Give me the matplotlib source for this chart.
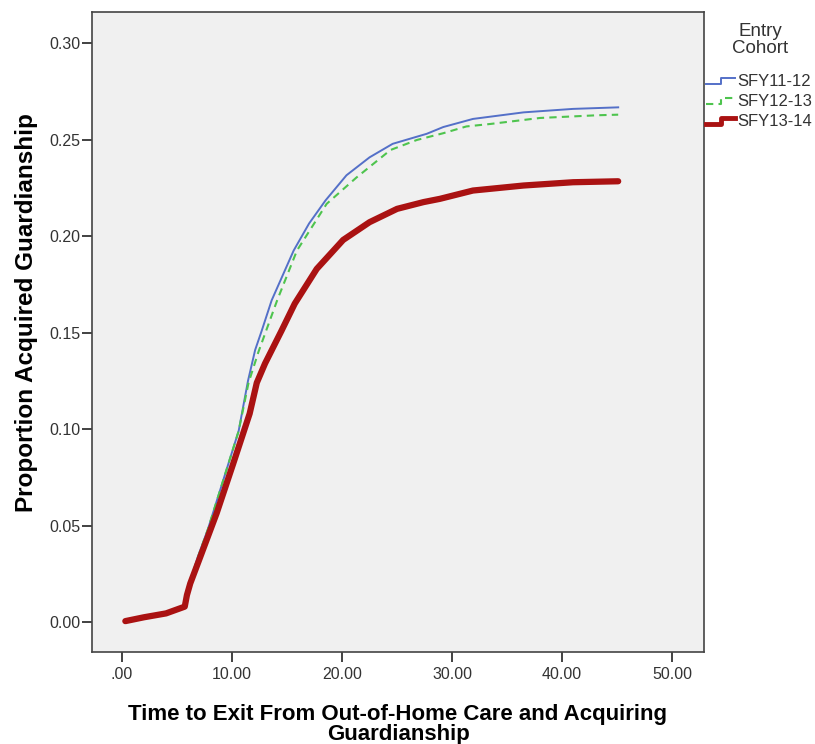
import matplotlib.pyplot as plt
from matplotlib.ticker import FuncFormatter
from matplotlib.lines import Line2D
from matplotlib.legend_handler import HandlerLine2D

plt.rcParams['font.family'] = ['Liberation Sans', 'DejaVu Sans']

# cumulative proportion acquiring guardianship
t11 = [0.3, 2, 4, 5.7, 5.9, 6.2, 6.9, 7.8, 9.2, 10.6, 11.45, 12.1, 12.7, 13.6, 15.6, 17.0, 18.5, 20.4,
       22.5, 24.6, 27.7, 29.2, 31.9, 36.5, 41, 45.1]
p11 = [0.000, 0.002, 0.004, 0.008, 0.014, 0.021, 0.034, 0.048, 0.0735, 0.099, 0.125, 0.141, 0.151, 0.1667,
       0.1925, 0.2065, 0.2185, 0.2315, 0.2408, 0.2478, 0.253, 0.2565, 0.2607, 0.2641, 0.2659, 0.2667]

t12 = [0.3, 2, 4, 5.7, 5.9, 6.2, 6.9, 7.8, 9.2, 10.6, 11.5, 12.4, 14.1, 15.9, 18.6, 21.3, 24.4, 26.8,
       29.2, 31.3, 33.5, 38, 43.2, 45.1]
p12 = [0.000, 0.002, 0.004, 0.008, 0.014, 0.021, 0.0336, 0.048, 0.0735, 0.099, 0.124, 0.140, 0.1667, 0.1925,
       0.2167, 0.2303, 0.2446, 0.2498, 0.2533, 0.2568, 0.2581, 0.2612, 0.2626, 0.2629]

t13 = [0.3, 2, 4, 5.7, 5.9, 6.2, 7.1, 8.6, 10.1, 11.6, 12.25, 13.0, 13.6, 14.5, 15.7, 17.7, 20.1, 22.5,
       25, 27.4, 28.9, 31.9, 36.5, 41, 45.1]
p13 = [0.0005, 0.0025, 0.0045, 0.008, 0.014, 0.020, 0.0336, 0.0564, 0.082, 0.108, 0.124, 0.134, 0.1408,
       0.151, 0.165, 0.183, 0.198, 0.2072, 0.2141, 0.2176, 0.2193, 0.2236, 0.2262, 0.2279, 0.2284]

cohorts = ['SFY11-12', 'SFY12-13', 'SFY13-14']
colors = ['#5470c8', '#4ec44e', '#aa1212']


class StepHandler(HandlerLine2D):
    # legend key drawn as a little step, like the original
    def create_artists(self, legend, orig_handle, xdescent, ydescent, width, height, fontsize, trans):
        x0 = -xdescent
        xm = x0 + width * 0.5
        y0 = -ydescent + height * 0.2
        y1 = -ydescent + height * 0.65
        line = Line2D([x0, xm, xm, x0 + width], [y0, y0, y1, y1])
        self.update_prop(line, orig_handle, legend)
        line.set_transform(trans)
        return [line]


fig = plt.figure(figsize=(8.15, 7.44), dpi=100)
ax = fig.add_axes([92/815, 1 - 652/744, 612/815, 640/744])
ax.set_facecolor('#f0f0f0')

ax.plot(t11, p11, color=colors[0], lw=1.4)
ax.plot(t12, p12, color=colors[1], lw=1.5, ls=(0, (3.5, 2.5)))
ax.plot(t13, p13, color=colors[2], lw=4.5, solid_capstyle='round', solid_joinstyle='round')

ax.set_xlim(-2.73, 52.9)
ax.set_ylim(-0.0155, 0.3161)
ax.set_xticks([0, 10, 20, 30, 40, 50])
ax.set_yticks([0, 0.05, 0.10, 0.15, 0.20, 0.25, 0.30])
ax.xaxis.set_major_formatter(FuncFormatter(lambda v, p: '.00' if v == 0 else '%.2f' % v))
ax.yaxis.set_major_formatter(FuncFormatter(lambda v, p: '%.2f' % v))
ax.tick_params(direction='out', length=7.5, width=1.3, color='#333333', labelsize=11.5, labelcolor='#333333')
ax.tick_params(axis='y', pad=1)
ax.tick_params(axis='x', pad=3)
for s in ax.spines.values():
    s.set_color('#444444')
    s.set_linewidth(1.2)

ax.set_xlabel('Time to Exit From Out-of-Home Care and Acquiring\nGuardianship', fontsize=16,
              fontweight='bold', linespacing=0.95, labelpad=16)
ax.set_ylabel('Proportion Acquired Guardianship', fontsize=17.5, fontweight='bold')
ax.yaxis.set_label_coords(-0.089, 0.531)

fig.text(760/815, 1 - 40/744, 'Entry\nCohort', ha='center', va='center', fontsize=13.5,
         linespacing=1.05, color='#333333')

handles = [Line2D([], [], color=colors[0], lw=1.4),
           Line2D([], [], color=colors[1], lw=1.5, ls=(0, (3.5, 2.5))),
           Line2D([], [], color=colors[2], lw=3.5)]
leg = fig.legend(handles, cohorts, loc='upper left',
                 bbox_to_anchor=(706/815, 1 - 74/744), frameon=False, fontsize=12,
                 handlelength=1.75, handletextpad=0.12,
                 labelspacing=0.3, borderaxespad=0, borderpad=0,
                 handler_map={Line2D: StepHandler()})
for txt in leg.get_texts():
    txt.set_color('#333333')

fig.savefig('out.png', dpi=100)
